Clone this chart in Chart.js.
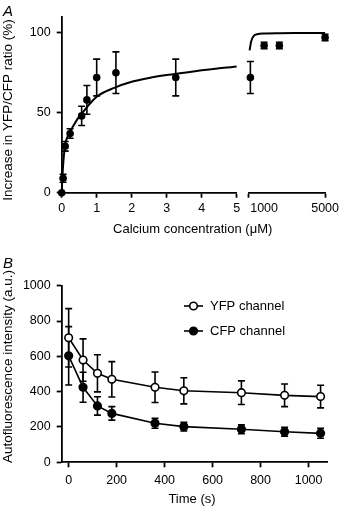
<!DOCTYPE html>
<html>
<head>
<meta charset="utf-8">
<script src="https://cdn.jsdelivr.net/npm/chart.js@4.4.1/dist/chart.umd.min.js"></script>
<style>
    html, body { margin: 0; padding: 0; background: #fff; }
    #wrap { position: relative; width: 342px; height: 506px; overflow: hidden; font-family: "Liberation Sans", Arial, sans-serif; }
    canvas { position: absolute; left: 0; }
    #chartA { top: 0; }
    #chartB { top: 250px; }
    .panel { position: absolute; font-style: italic; font-size: 15px; line-height: 15px; color: #000; }
</style>
</head>
<body>
<div id="wrap">
    <canvas id="chartA" width="342" height="250"></canvas>
    <canvas id="chartB" width="342" height="256"></canvas>
    <div class="panel" style="left:3px;top:3px">A</div>
    <div class="panel" style="left:3px;top:255px">B</div>
</div>
<script>
// Panel A - calcium titration (low range, µM)
const concLow = [0, 0.04, 0.1, 0.24, 0.57, 0.72, 1.0, 1.55, 3.26];
const ratioLow = [0, 9, 29, 37, 48, 58, 72, 75, 72];
const ratioLowErr = [0, 2.5, 3, 3, 6, 9, 11.5, 13, 11.5];

// Panel A - high range (µM)
const concHigh = [100, 1000, 2000, 5000];
const ratioHigh = [72, 92, 92, 97];
const ratioHighErr = [10, 2, 2, 2];

// Fitted curves
const fitLowX = [0, 0.02, 0.05, 0.1, 0.2, 0.3, 0.45, 0.65, 0.8, 1.0, 1.5, 2.0, 2.5, 3.0, 3.5, 4.0, 4.5, 5.0];
const fitLowY = [0, 10, 20, 30, 36.5, 40.5, 46, 51.5, 55.5, 60, 65.5, 69.3, 71.7, 73.5, 75, 76.5, 77.8, 78.8];
const fitHighX = [50, 150, 300, 600, 1000, 2000, 3000, 4000, 5000, 5400];
const fitHighY = [89, 94.5, 97.8, 99.2, 99.5, 99.7, 99.8, 99.8, 99.8, 99.8];

const ratioTicks = [0, 50, 100];
const concLowTicks = [0, 1, 2, 3, 4, 5];
const concHighTicks = [0, 1000, 5000];

// Panel B - autofluorescence over time
const timeSec = [0, 60, 120, 180, 360, 480, 720, 900, 1050];
const yfpVals = [705, 579, 504, 470, 425, 405, 394, 379, 372];
const yfpErr = [165, 120, 105, 100, 86, 74, 67, 64, 64];
const cfpVals = [603, 425, 319, 277, 221, 202, 187, 173, 164];
const cfpErr = [165, 85, 52, 38, 28, 25, 25, 25, 28];
const timeTicks = [0, 200, 400, 600, 800, 1000];
const intensityTicks = [0, 200, 400, 600, 800, 1000];

const FONT = '"Liberation Sans", Arial, sans-serif';
const INK = '#000';

const pts = (xs, ys) => xs.map((x, i) => ({ x: x, y: ys[i] }));
const fixTicks = (list) => (scale) => { scale.ticks = list.map(v => ({ value: v })); };
const plainLabel = (v) => String(v);

/**
 * Draw vertical error bars with caps under the markers
 */
const errorBars = {
    id: 'errorBars',
    beforeDatasetsDraw(chart) {
        const ctx = chart.ctx;
        chart.data.datasets.forEach((ds, i) => {
            if (!ds.errors) return;
            const meta = chart.getDatasetMeta(i);
            const yScale = chart.scales[meta.yAxisID];
            ctx.save();
            ctx.strokeStyle = INK;
            ctx.lineWidth = 1.6;
            meta.data.forEach((pt, j) => {
                const e = ds.errors[j];
                if (!e) return;
                const v = ds.data[j].y;
                const top = yScale.getPixelForValue(v + e);
                const bot = yScale.getPixelForValue(v - e);
                ctx.beginPath();
                ctx.moveTo(pt.x, top);
                ctx.lineTo(pt.x, bot);
                ctx.moveTo(pt.x - 3.5, top);
                ctx.lineTo(pt.x + 3.5, top);
                ctx.moveTo(pt.x - 3.5, bot);
                ctx.lineTo(pt.x + 3.5, bot);
                ctx.stroke();
            });
            ctx.restore();
        });
    }
};

/**
 * Axis titles placed relative to the chart area
 */
const axisTitles = {
    id: 'axisTitles',
    afterDraw(chart, args, opts) {
        const ctx = chart.ctx;
        const a = chart.chartArea;
        ctx.save();
        ctx.fillStyle = INK;
        ctx.textAlign = 'center';
        ctx.textBaseline = 'middle';
        // y title
        ctx.font = '13.5px ' + FONT;
        ctx.translate(8, (a.top + a.bottom) / 2 + opts.yShift);
        ctx.rotate(-Math.PI / 2);
        ctx.fillText(opts.yText, 0, 0);
        ctx.restore();
        // x title
        ctx.save();
        ctx.fillStyle = INK;
        ctx.textAlign = 'center';
        ctx.textBaseline = 'middle';
        ctx.font = '13px ' + FONT;
        ctx.fillText(opts.xText, (a.left + a.right) / 2 + opts.xShift, a.bottom + opts.xDrop);
        ctx.restore();
    }
};

/**
 * Legend with a line through the marker
 */
const lineLegend = {
    id: 'lineLegend',
    afterDraw(chart, args, opts) {
        if (!opts.items) return;
        const ctx = chart.ctx;
        const a = chart.chartArea;
        ctx.save();
        opts.items.forEach((item, k) => {
            const cx = a.left + 131.8;
            const cy = a.top + 20.3 + k * 25;
            ctx.strokeStyle = INK;
            ctx.lineWidth = 1.6;
            ctx.beginPath();
            ctx.moveTo(cx - 9.5, cy);
            ctx.lineTo(cx + 9.5, cy);
            ctx.stroke();
            ctx.beginPath();
            ctx.arc(cx, cy, 3.8, 0, Math.PI * 2);
            ctx.fillStyle = item.fill;
            ctx.fill();
            ctx.stroke();
            ctx.fillStyle = INK;
            ctx.font = '13px ' + FONT;
            ctx.textAlign = 'left';
            ctx.textBaseline = 'middle';
            ctx.fillText(item.text, cx + 16.5, cy);
        });
        ctx.restore();
    }
};

const tickFont = { family: FONT, size: 12.5 };
const axisGrid = { display: true, drawOnChartArea: false, drawTicks: true, tickLength: 5, tickWidth: 1.8, tickColor: INK };
const axisBorder = { display: true, color: INK, width: 1.8 };

// ---------- Panel A ----------
new Chart(document.getElementById('chartA'), {
    type: 'line',
    data: {
        datasets: [
            {
                data: pts(fitLowX, fitLowY), xAxisID: 'x1', yAxisID: 'y',
                borderColor: INK, borderWidth: 2, pointRadius: 0,
                cubicInterpolationMode: 'monotone', clip: false
            },
            {
                data: pts(fitHighX, fitHighY), xAxisID: 'x2', yAxisID: 'y',
                borderColor: INK, borderWidth: 2, pointRadius: 0,
                cubicInterpolationMode: 'monotone', clip: false
            },
            {
                data: pts(concLow, ratioLow), errors: ratioLowErr, xAxisID: 'x1', yAxisID: 'y',
                showLine: false, pointRadius: 3.8, pointBackgroundColor: INK, pointBorderColor: INK,
                pointBorderWidth: 0, clip: false
            },
            {
                data: pts(concHigh, ratioHigh), errors: ratioHighErr, xAxisID: 'x2', yAxisID: 'y',
                showLine: false, pointRadius: 3.8, pointBackgroundColor: INK, pointBorderColor: INK,
                pointBorderWidth: 0, clip: false
            }
        ]
    },
    options: {
        responsive: false,
        animation: false,
        devicePixelRatio: 1,
        layout: { padding: { top: 16.7, right: 15.3, bottom: 35.3, left: 0 } },
        plugins: {
            legend: { display: false },
            tooltip: { enabled: false },
            axisTitles: { yText: 'Increase in YFP/CFP ratio (%)', yShift: 5.3, xText: 'Calcium concentration (\u03BCM)', xShift: -0.7, xDrop: 36.3 }
        },
        scales: {
            x1: {
                type: 'linear', axis: 'x', position: 'bottom', stack: 'conc', stackWeight: 176,
                min: 0, max: 5,
                afterBuildTicks: fixTicks(concLowTicks),
                afterFit: (s) => { s.height = 22; },
                grid: axisGrid, border: axisBorder,
                ticks: { font: tickFont, color: INK, padding: 3, maxRotation: 0, autoSkip: false, callback: plainLabel }
            },
            xg: {
                type: 'linear', axis: 'x', position: 'bottom', stack: 'conc', stackWeight: 12.3,
                min: 0, max: 1,
                afterFit: (s) => { s.height = 22; },
                grid: { display: false }, border: { display: false }, ticks: { display: false }
            },
            x2: {
                type: 'linear', axis: 'x', position: 'bottom', stack: 'conc', stackWeight: 76.7,
                min: 0, max: 5000,
                afterBuildTicks: fixTicks(concHighTicks),
                afterFit: (s) => { s.height = 22; },
                grid: {
                    ...axisGrid,
                    tickColor: (c) => (c.tick && c.tick.value === 1000 ? 'rgba(0,0,0,0)' : INK)
                },
                border: axisBorder,
                ticks: {
                    font: tickFont, color: INK, padding: 3, maxRotation: 0, autoSkip: false,
                    callback: (v) => (v === 0 ? '' : String(v))
                }
            },
            y: {
                type: 'linear', position: 'left',
                min: 0, max: 110,
                afterBuildTicks: fixTicks(ratioTicks),
                afterFit: (s) => { s.width = 61.7; },
                grid: axisGrid, border: axisBorder,
                ticks: { font: tickFont, color: INK, padding: 6, callback: plainLabel }
            }
        }
    },
    plugins: [errorBars, axisTitles]
});

// ---------- Panel B ----------
new Chart(document.getElementById('chartB'), {
    type: 'line',
    data: {
        datasets: [
            {
                label: 'YFP channel',
                data: pts(timeSec, yfpVals), errors: yfpErr,
                borderColor: INK, borderWidth: 1.6, tension: 0,
                pointRadius: 3.8, pointBackgroundColor: '#fff', pointBorderColor: INK, pointBorderWidth: 1.6,
                clip: false
            },
            {
                label: 'CFP channel',
                data: pts(timeSec, cfpVals), errors: cfpErr,
                borderColor: INK, borderWidth: 1.6, tension: 0,
                pointRadius: 3.8, pointBackgroundColor: INK, pointBorderColor: INK, pointBorderWidth: 1.6,
                clip: false
            }
        ]
    },
    options: {
        responsive: false,
        animation: false,
        devicePixelRatio: 1,
        layout: { padding: { top: 35.7, right: 14.7, bottom: 21.7, left: 0 } },
        plugins: {
            legend: { display: false },
            tooltip: { enabled: false },
            axisTitles: { yText: 'Autofluorescence intensity (a.u.)', yShift: -7.5, xText: 'Time (s)', xShift: -2.5, xDrop: 37 },
            lineLegend: {
                items: [
                    { text: 'YFP channel', fill: '#fff' },
                    { text: 'CFP channel', fill: INK }
                ]
            }
        },
        scales: {
            x: {
                type: 'linear', position: 'bottom',
                min: -29, max: 1078,
                afterBuildTicks: fixTicks(timeTicks),
                afterFit: (s) => { s.height = 22; },
                grid: axisGrid, border: axisBorder,
                ticks: { font: tickFont, color: INK, padding: 6, maxRotation: 0, autoSkip: false, callback: plainLabel }
            },
            y: {
                type: 'linear', position: 'left',
                min: 0, max: 1000,
                afterBuildTicks: fixTicks(intensityTicks),
                afterFit: (s) => { s.width = 61.7; },
                grid: axisGrid, border: axisBorder,
                ticks: { font: tickFont, color: INK, padding: 6, callback: plainLabel }
            }
        }
    },
    plugins: [errorBars, axisTitles, lineLegend]
});
</script>
</body>
</html>
